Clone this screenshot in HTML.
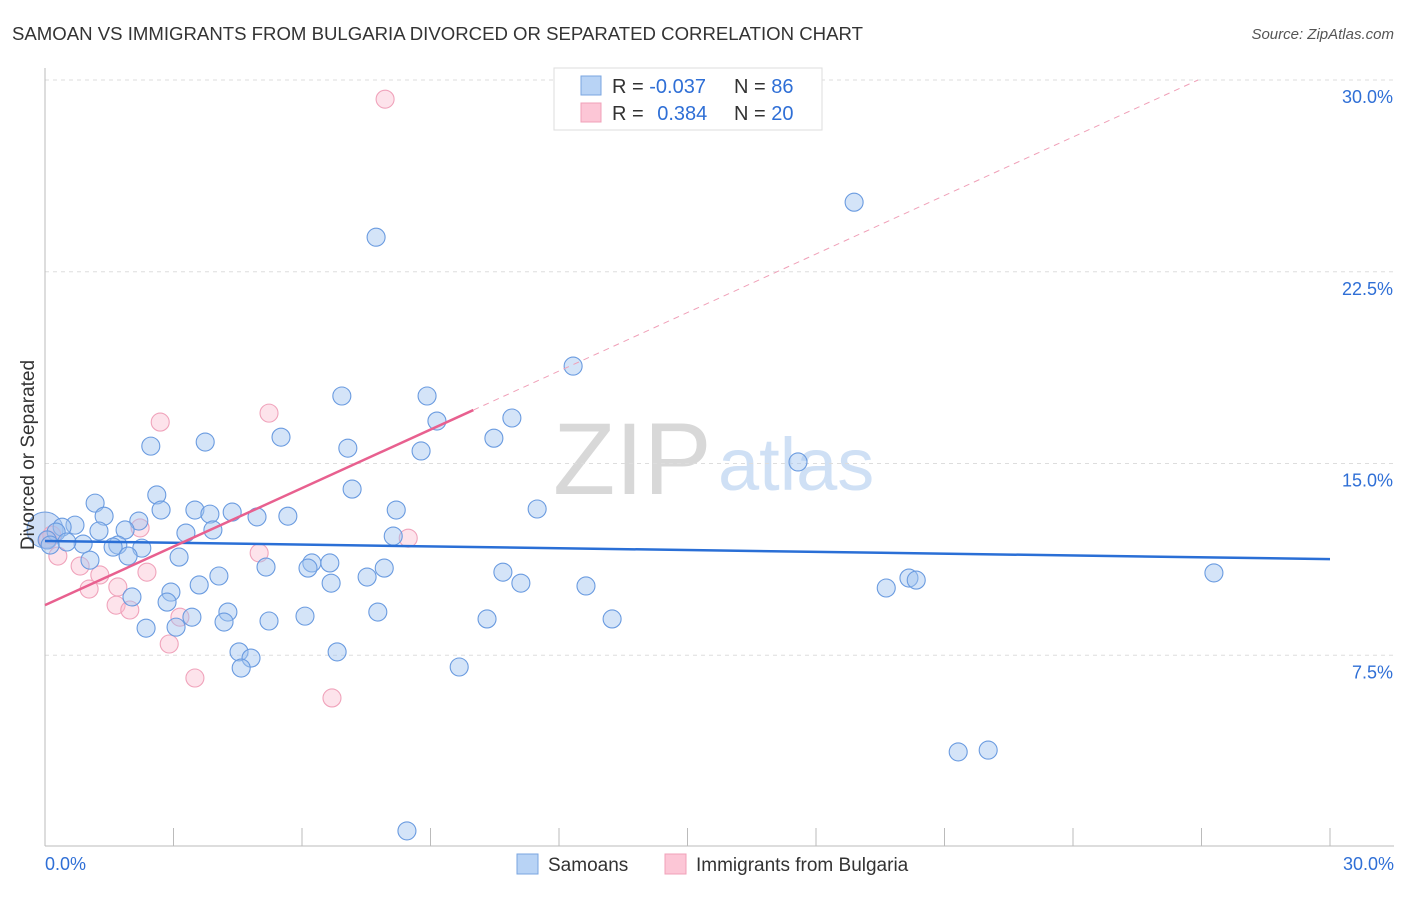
<!DOCTYPE html>
<html><head><meta charset="utf-8"><style>
body{margin:0;background:#fff;font-family:"Liberation Sans",sans-serif;}
svg text{font-family:"Liberation Sans",sans-serif;}
</style></head><body>
<svg width="1406" height="892" xmlns="http://www.w3.org/2000/svg">
<text x="12" y="40" font-size="18.6" fill="#333">SAMOAN VS IMMIGRANTS FROM BULGARIA DIVORCED OR SEPARATED CORRELATION CHART</text>
<text x="1394" y="39" font-size="15" fill="#555" font-style="italic" text-anchor="end">Source: ZipAtlas.com</text>
<g>
<text x="553" y="494" font-size="102" fill="#d8d8d8" font-family="Liberation Serif">ZIP</text>
<text x="718" y="490" font-size="74" fill="#cfe0f5">atlas</text>
</g>
<g id="grid"></g>
<g id="axes"></g>
<g id="marks"></g>
<text transform="translate(34,455) rotate(-90)" font-size="19" fill="#333" text-anchor="middle">Divorced or Separated</text>
<g>
<rect x="554" y="68" width="268" height="62" fill="#fff" stroke="#ddd"/>
<rect x="581" y="76" width="20" height="19" fill="#b8d3f5" stroke="#7aa6e0"/>
<rect x="581" y="103" width="20" height="19" fill="#fcc6d6" stroke="#f0a0b8"/>
<text x="612" y="93" font-size="20" fill="#333">R = <tspan fill="#2f6fd6">-0.037</tspan></text>
<text x="734" y="93" font-size="20" fill="#333">N = <tspan fill="#2f6fd6">86</tspan></text>
<text x="612" y="120" font-size="20" fill="#333">R = <tspan fill="#2f6fd6" dx="8">0.384</tspan></text>
<text x="734" y="120" font-size="20" fill="#333">N = <tspan fill="#2f6fd6">20</tspan></text>
</g>
<g>
<rect x="517" y="854" width="21" height="20" fill="#b8d3f5" stroke="#7aa6e0"/>
<text x="548" y="871" font-size="19" fill="#333">Samoans</text>
<rect x="665" y="854" width="21" height="20" fill="#fcc6d6" stroke="#f0a0b8"/>
<text x="696" y="871" font-size="19" fill="#333">Immigrants from Bulgaria</text>
</g>
</svg>
<script>
const yTicks=[7.5,15,22.5,30];
const yTickLabels=["7.5%","15.0%","22.5%","30.0%"];
const xTickLabels=["0.0%","30.0%"];
const blueX=[18.89,7.73,12.33,6.93,8.92,10.90,9.15,10.48,7.07,8.78,5.51,3.74,2.47,17.58,7.17,2.61,1.17,11.49,8.20,3.50,2.71,3.85,4.37,4.95,5.67,1.38,2.19,0.70,0.40,1.87,3.29,3.92,1.26,8.13,0.26,0.89,1.70,2.26,1.59,0.51,1.94,3.13,6.65,6.23,6.14,5.16,7.92,4.06,10.69,7.52,6.68,11.11,12.63,3.60,27.29,20.17,20.34,19.64,2.94,2.03,2.85,4.27,3.43,6.07,7.77,10.32,13.24,4.18,5.23,2.36,3.06,4.53,4.81,6.82,4.58,9.67,21.32,22.02,8.45,0.05,0.12,1.05];
const blueY=[25.22,23.85,18.81,17.64,17.64,16.78,16.66,15.99,15.60,15.49,16.03,15.84,15.68,15.06,14.00,13.77,13.45,13.22,13.18,13.18,13.18,13.02,13.10,12.91,12.94,12.94,12.75,12.59,12.51,12.40,12.28,12.40,12.36,12.16,12.32,11.85,11.81,11.69,11.73,11.93,11.38,11.34,11.11,11.11,10.91,10.95,10.91,10.60,10.75,10.56,10.32,10.32,10.21,10.25,10.72,10.52,10.44,10.13,9.97,9.78,9.58,9.19,8.99,9.03,9.19,8.92,8.92,8.80,8.84,8.56,8.60,7.63,7.39,7.63,7.00,7.04,3.72,3.79,0.63,12.01,11.81,11.22];
const pinkX=[7.94,5.23,2.69,8.48,5.00,2.22,0.30,0.82,1.28,2.38,1.03,1.70,1.66,1.98,3.15,2.90,3.50,6.70,0.07,0.16];
const pinkY=[29.25,16.97,16.62,12.08,11.50,12.48,11.38,10.99,10.64,10.75,10.09,10.17,9.46,9.27,8.99,7.94,6.61,5.83,12.01,12.20];
const blueTrend=[11.97,11.26];
const pinkTrend=[9.46,0.763];
const NS="http://www.w3.org/2000/svg";
const xs=v=>45+v*(1285/30);
const ys=v=>847-v*(767/30);
function mk(tag,attrs,parent){const e=document.createElementNS(NS,tag);for(const k in attrs)e.setAttribute(k,attrs[k]);document.getElementById(parent).appendChild(e);return e;}
yTicks.forEach((t,i)=>{
 const g=mk('line',{x1:45,x2:1394,y1:ys(t),y2:ys(t),stroke:'#ddd','stroke-dasharray':'4,4'},'grid');
 
 
 const l=mk('text',{x:1393,y:ys(t)+23,'font-size':18,fill:'#2f6fd6','text-anchor':'end'},'axes');
 l.textContent=yTickLabels[i];
 
 
});
const ya=mk('line',{x1:45,x2:45,y1:68,y2:846,stroke:'#bbb'},'axes');


const xa=mk('line',{x1:45,x2:1394,y1:846,y2:846,stroke:'#bbb'},'axes');


for(let i=1;i<=10;i++){
 const t=mk('line',{x1:xs(i*3),x2:xs(i*3),y1:828,y2:846,stroke:'#bbb'},'axes');
 
 
}
[[0,'start',45],[30,'end',1394]].forEach((d,i)=>{
 const l=mk('text',{x:d[2],y:870,'font-size':18,fill:'#2f6fd6','text-anchor':d[1]},'axes');
 l.textContent=xTickLabels[i];
 
 
});
const big=mk('circle',{cx:xs(0),cy:ys(12.4),r:18,fill:'rgba(150,185,235,0.45)',stroke:'#6f9de0'},'marks');


pinkX.forEach((x,i)=>{
 const c=mk('circle',{cx:xs(x),cy:ys(pinkY[i]),r:9,fill:'rgba(250,185,205,0.4)',stroke:'#f0a3bb','stroke-width':1.1},'marks');
 
 
});
blueX.forEach((x,i)=>{
 const c=mk('circle',{cx:xs(x),cy:ys(blueY[i]),r:9,fill:'rgba(160,196,240,0.45)',stroke:'#6a9be0','stroke-width':1.1},'marks');
 
 
});
const bt=mk('line',{x1:xs(0),y1:ys(blueTrend[0]),x2:xs(30),y2:ys(blueTrend[1]),stroke:'#2a6fd6','stroke-width':2.5},'marks');


const pf=x=>pinkTrend[0]+pinkTrend[1]*x;
const ps=mk('line',{x1:xs(0),y1:ys(pf(0)),x2:xs(10),y2:ys(pf(10)),stroke:'#e8608f','stroke-width':2.5},'marks');


const xEnd=(30-pinkTrend[0])/pinkTrend[1];
const pd=mk('line',{x1:xs(10),y1:ys(pf(10)),x2:xs(xEnd),y2:ys(30),stroke:'#f0a0b8','stroke-width':1,'stroke-dasharray':'6,5'},'marks');


</script>
</body></html>
